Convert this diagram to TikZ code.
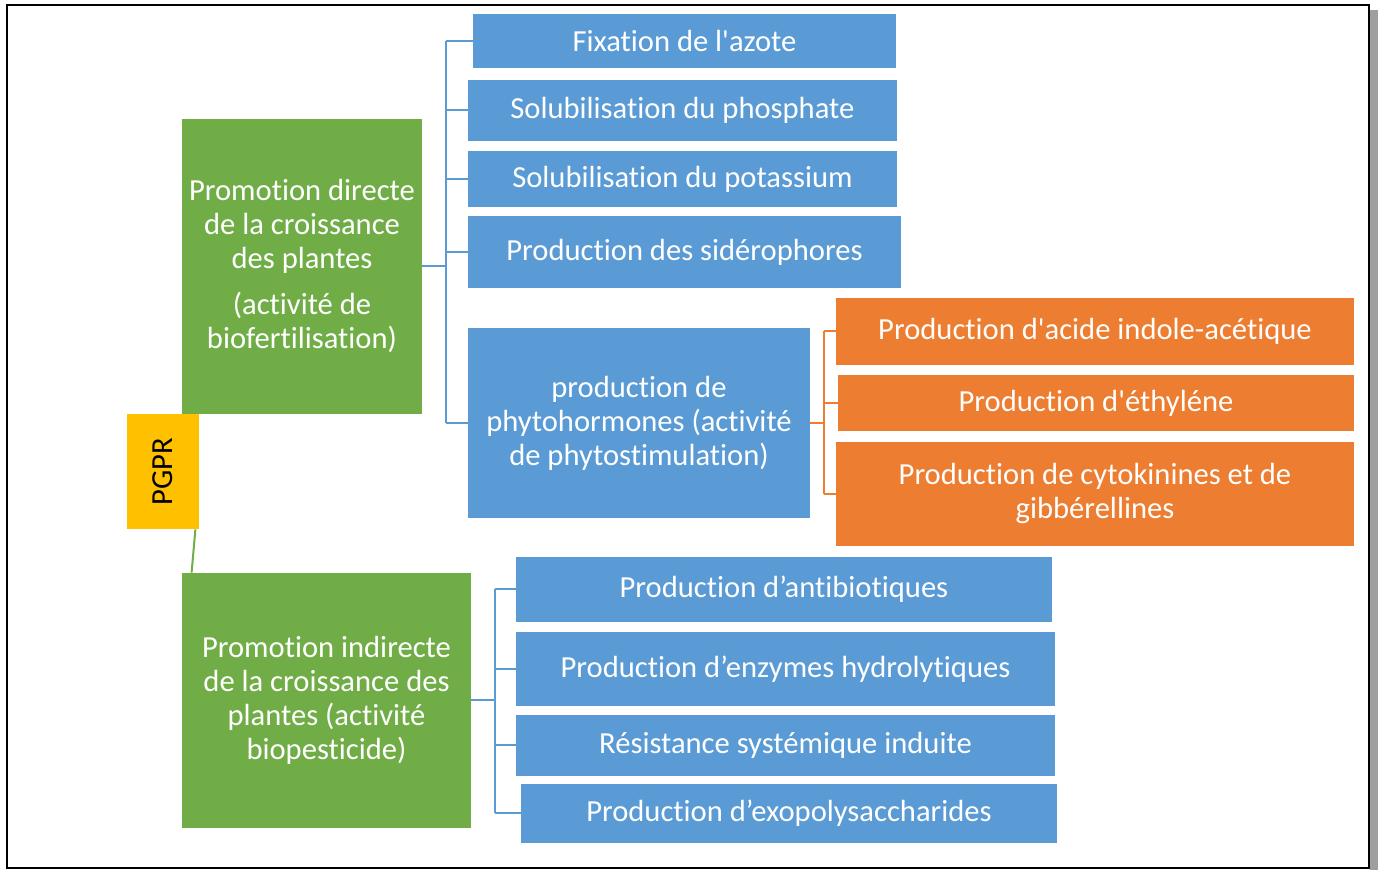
\documentclass[tikz,border=0pt]{standalone}
\usepackage{fontspec}
\setmainfont{Carlito}[Ligatures={TeXOff, NoCommon}]
\definecolor{boxblue}{HTML}{5B9BD5}
\definecolor{boxgreen}{HTML}{70AD47}
\definecolor{boxorange}{HTML}{ED7D31}
\definecolor{boxgold}{HTML}{FFC000}
\tikzset{
	basebox/.style={shape=rectangle, inner sep=0pt, align=center, text=white, font=\fontsize{15.3}{17}\selectfont},
	bluebox/.style={basebox, fill=boxblue},
	greenbox/.style={basebox, fill=boxgreen},
	orangebox/.style={basebox, fill=boxorange},
	pgprbox/.style={basebox, fill=boxgold, text=black},
	bline/.style={draw=boxblue, line width=1pt},
	oline/.style={draw=boxorange, line width=1pt},
	gline/.style={draw=boxgreen, line width=1pt}
}
\begin{document}
\begin{tikzpicture}[x=0.5pt, y=-0.5pt]
	% Page frame and shadow:
	\useasboundingbox (0, 0) rectangle (1378, 870);
	\fill[gray!75] (1370, 10) rectangle (1378, 870);
	\draw[line width=0.8pt] (7, 5) rectangle (1369, 868);
	% Root and the two branches:
	\node[pgprbox, minimum width=36pt, minimum height=57.5pt] (pgpr) at (163, 471.5) {\rotatebox{90}{PGPR}};
	\node[greenbox, minimum width=120pt, minimum height=147.5pt] (direct) at (302, 266.5) {Promotion directe\\de la croissance\\des plantes\\[6pt](activité de\\biofertilisation)};
	\node[greenbox, minimum width=144.5pt, minimum height=127.5pt] (indirect) at (326.5, 700.5) {Promotion indirecte\\de la croissance des\\plantes (activité\\biopesticide)};
	% Direct branch:
	\node[bluebox, minimum width=211.5pt, minimum height=27pt] (fix) at (684.5, 41) {Fixation de l'azote};
	\node[bluebox, minimum width=214.5pt, minimum height=30.5pt] (solp) at (682.5, 110.5) {Solubilisation du phosphate};
	\node[bluebox, minimum width=214.5pt, minimum height=28pt] (solk) at (682.5, 179) {Solubilisation du potassium};
	\node[bluebox, minimum width=216.5pt, minimum height=36pt] (sid) at (684.5, 252) {Production des sidérophores};
	\node[bluebox, minimum width=171pt, minimum height=95pt] (phyto) at (639, 423) {production de\\phytohormones (activité\\de phytostimulation)};
	% Phytohormones:
	\node[orangebox, minimum width=259pt, minimum height=33.5pt] (iaa) at (1095, 331.5) {Production d'acide indole-acétique};
	\node[orangebox, minimum width=258pt, minimum height=28pt] (eth) at (1096, 403) {Production d'éthyléne};
	\node[orangebox, minimum width=259pt, minimum height=52pt] (cyto) at (1095, 494) {Production de cytokinines et de\\gibbérellines};
	% Indirect branch:
	\node[bluebox, minimum width=268pt, minimum height=32.5pt] (anti) at (784, 589.5) {Production d’antibiotiques};
	\node[bluebox, minimum width=269.5pt, minimum height=37pt] (enz) at (785.5, 669) {Production d’enzymes hydrolytiques};
	\node[bluebox, minimum width=269.5pt, minimum height=30.5pt] (res) at (785.5, 745.5) {Résistance systémique induite};
	\node[bluebox, minimum width=268pt, minimum height=29.5pt] (exo) at (789, 813.5) {Production d’exopolysaccharides};
	% Brackets:
	\coordinate (bd) at (446, 0);
	\coordinate (bo) at (824, 0);
	\coordinate (bi) at (495, 0);
	\draw[bline] (direct.east) -- (direct.east -| bd);
	\draw[bline] (fix.west -| bd) -- (phyto.west -| bd);
	\foreach \n in {fix, solp, solk, sid, phyto}
		\draw[bline] (\n.west -| bd) -- (\n.west);
	\draw[oline] (phyto.east) -- (phyto.east -| bo);
	\draw[oline] (iaa.west -| bo) -- (cyto.west -| bo);
	\foreach \n in {iaa, eth, cyto}
		\draw[oline] (\n.west -| bo) -- (\n.west);
	\draw[bline] (indirect.east) -- (indirect.east -| bi);
	\draw[bline] (anti.west -| bi) -- (exo.west -| bi);
	\foreach \n in {anti, enz, res, exo}
		\draw[bline] (\n.west -| bi) -- (\n.west);
	\draw[gline] ([xshift=-2pt]pgpr.south east) -- ([xshift=5pt]indirect.north west);
\end{tikzpicture}
\end{document}
